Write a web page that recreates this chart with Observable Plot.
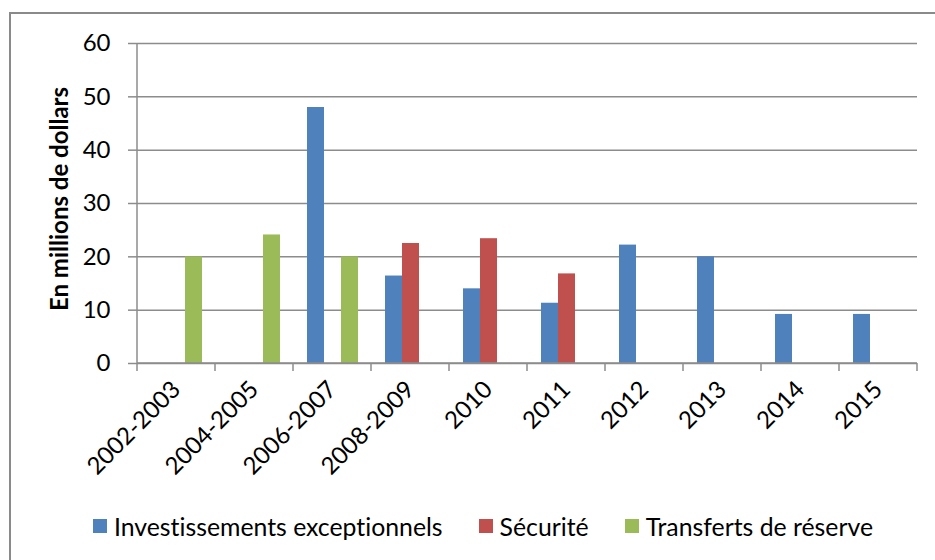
<!DOCTYPE html>
<html><head><meta charset="utf-8">
<script src="https://cdn.jsdelivr.net/npm/d3@7"></script>
<script src="https://cdn.jsdelivr.net/npm/@observablehq/plot@0.6"></script>
<style>
body{margin:0;background:#fff;width:935px;height:560px;position:relative;overflow:hidden;font-family:Lato, sans-serif;font-variant-ligatures:none;font-feature-settings:"liga" 0;}
svg text{font-variant-ligatures:none;font-feature-settings:"liga" 0;}
#frame{position:absolute;left:9px;top:12px;width:960px;height:600px;border-left:2px solid #8a8a8a;border-top:2px solid #8a8a8a;}
#chart{position:absolute;left:0;top:0;}
#legend{position:absolute;left:93px;top:511px;height:30px;display:flex;align-items:center;font-size:24.8px;color:#000;white-space:nowrap;}
.item{display:flex;align-items:center;margin-right:36px}
.sw{width:14px;height:14px;margin-right:7px;flex:none}
</style></head><body>
<div id="frame"></div><div id="chart"></div><div id="legend"></div>
<script>
const categories = ["2002-2003","2004-2005","2006-2007","2008-2009","2010","2011","2012","2013","2014","2015"];
const seriesNames = ["Investissements exceptionnels","Sécurité","Transferts de réserve"];
const investissements = [null,null,48,16.4,14,11.3,22.2,20,9.2,9.2];
const securite = [null,null,null,22.5,23.4,16.8,null,null,null,null];
const transferts = [20,24.1,20,null,null,null,null,null,null,null];
const colors = ["#4F81BD","#C0504D","#9BBB59"];
const yTicks = [0,10,20,30,40,50,60];
const yLabel = "En millions de dollars";

const seriesValues = [investissements, securite, transferts];
const data = [];
categories.forEach((c, i) => {
  seriesValues.forEach((arr, j) => {
    if (arr[i] != null) data.push({cat: c, series: seriesNames[j], value: arr[i]});
  });
});

const gridColor = "#8c8c8c";
const chart = Plot.plot({
  width: 935, height: 470,
  marginLeft: 136, marginRight: 17, marginTop: 43, marginBottom: 107,
  style: {fontFamily: "Lato, sans-serif", fontSize: "24px", color: "#000", background: "transparent", overflow: "visible"},
  fx: {domain: categories, padding: 0, label: null},
  x: {domain: seriesNames, paddingInner: 0, paddingOuter: 0.75, axis: null},
  y: {domain: [0, 60], label: null},
  color: {domain: seriesNames, range: colors},
  marks: [
    Plot.gridY(yTicks, {stroke: gridColor, strokeOpacity: 1, strokeWidth: 1.5}),
    Plot.barY(data, {fx: "cat", x: "series", y: "value", fill: "series"}),
    Plot.axisY(yTicks, {tickSize: 9, tickPadding: 18, label: null, stroke: gridColor, strokeWidth: 1.5, fontSize: 24}),
    Plot.axisFx({anchor: "bottom", tickRotate: -45, tickSize: 0, tickPadding: 22, label: null, fontSize: 24})
  ]
});
document.getElementById("chart").appendChild(chart);

// Excel-style axis line, boundary ticks and rotated bold title, positioned with Plot's scales
const svg = d3.select(chart.tagName.toLowerCase() === "svg" ? chart : chart.querySelector("svg"));
const fx = chart.scale("fx"), y = chart.scale("y");
const x0 = fx.apply(categories[0]);
const bounds = categories.map(c => fx.apply(c)).concat([fx.apply(categories[categories.length - 1]) + fx.bandwidth]);
const y0 = y.apply(0), yTop = y.apply(60);
svg.append("line").attr("x1", x0).attr("x2", x0).attr("y1", y0).attr("y2", yTop)
  .attr("stroke", gridColor).attr("stroke-width", 1.5);
svg.append("line").attr("x1", x0).attr("x2", bounds[bounds.length-1]).attr("y1", y0).attr("y2", y0)
  .attr("stroke", gridColor).attr("stroke-width", 1.5);
bounds.forEach(b => svg.append("line").attr("x1", b).attr("x2", b).attr("y1", y0).attr("y2", y0 + 8)
  .attr("stroke", gridColor).attr("stroke-width", 1.5));
svg.append("text").attr("transform", `translate(60,${(y0 + yTop) / 2 - 4}) rotate(-90)`)
  .attr("text-anchor", "middle").attr("dy", "0.35em")
  .attr("font-weight", "bold").attr("font-size", 24).attr("fill", "#000").text(yLabel);

const legend = d3.select("#legend");
seriesNames.forEach((s, i) => {
  const it = legend.append("div").attr("class", "item");
  it.append("div").attr("class", "sw").style("background", colors[i]);
  it.append("span").text(s);
});
</script></body></html>
